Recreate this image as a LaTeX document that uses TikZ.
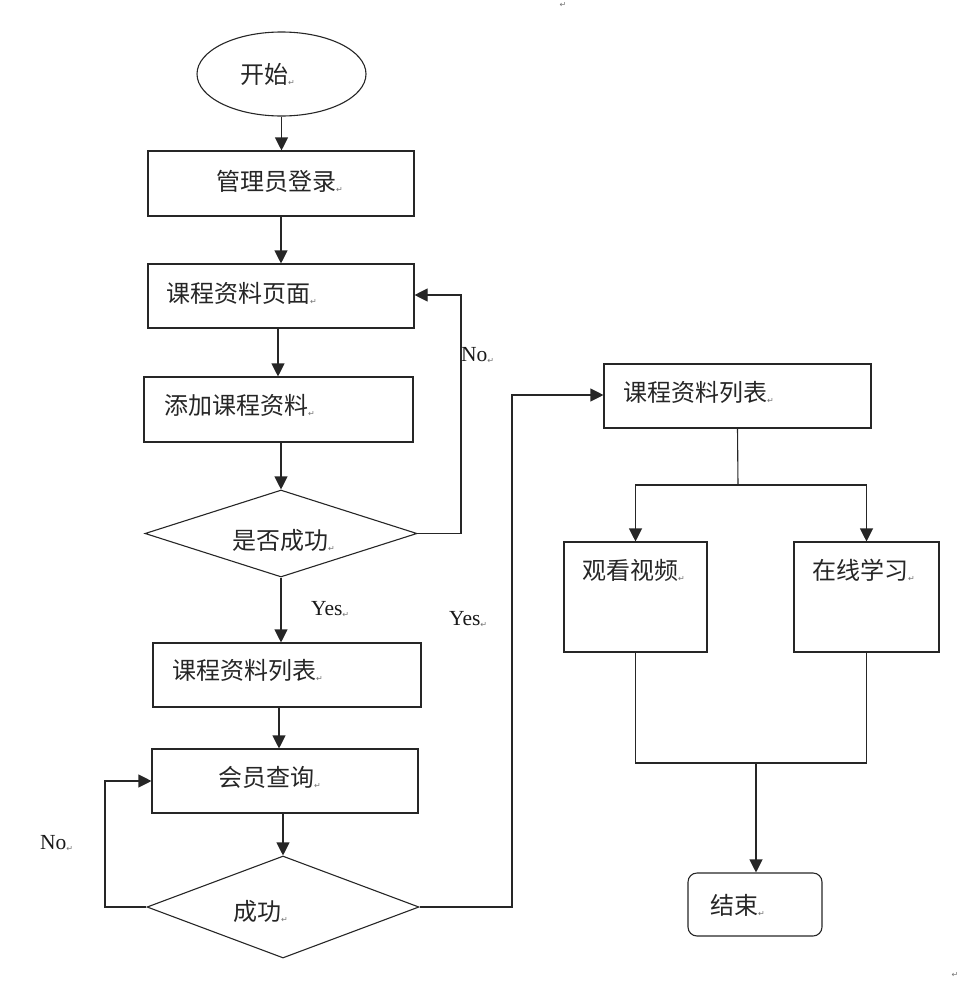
\documentclass[tikz,border=0pt]{standalone}
\usepackage{fontspec}
\setmainfont{Liberation Serif}
\newfontfamily\cjk{Noto Sans CJK SC}
\newfontfamily\symf{DejaVu Sans}
\usetikzlibrary{shapes.geometric,arrows.meta}
\newcommand\retmark{{\symf\fontsize{8}{8}\selectfont\color{black!55}\raisebox{-2pt}{↵}}}
\tikzset{
  box/.style={draw=black!85, line width=1.1pt, inner sep=0pt},
  dia/.style={draw=black!85, line width=1.1pt, diamond, inner sep=0pt},
  txt/.style={anchor=west, inner sep=0pt, text=black!85, font=\cjk\fontsize{24}{24}\selectfont},
  lat/.style={anchor=west, inner sep=0pt, text=black!90, font=\fontsize{21.5}{21.5}\selectfont},
  line/.style={draw=black!85, line width=1.1pt},
  arr/.style={line, -{Triangle[length=13pt,width=13pt]}},
}
\begin{document}
\begin{tikzpicture}[x=1pt,y=-1pt]
\useasboundingbox (0,0) rectangle (967,993);
% shapes
\node[box, ellipse, minimum width=169pt, minimum height=84pt] (st) at (281.5,74) {};
\node[box, minimum width=266pt, minimum height=65pt] (b1) at (281,183.5) {};
\node[box, minimum width=266pt, minimum height=64pt] (b2) at (281,296) {};
\node[box, minimum width=269pt, minimum height=65pt] (b3) at (278.5,409.5) {};
\node[dia, minimum width=272pt, minimum height=87pt] (d1) at (281,533.5) {};
\node[box, minimum width=268pt, minimum height=64pt] (b4) at (287,675) {};
\node[box, minimum width=266pt, minimum height=64pt] (b5) at (285,781) {};
\node[dia, minimum width=272pt, minimum height=102pt] (d2) at (283,907) {};
\node[box, minimum width=267pt, minimum height=64pt] (b6) at (737.5,396) {};
\node[box, minimum width=143pt, minimum height=110pt] (b7) at (635.5,597) {};
\node[box, minimum width=145pt, minimum height=110pt] (b8) at (866.5,597) {};
\node[box, rounded corners=9pt, minimum width=134pt, minimum height=63pt] (en) at (755,904.5) {};
% texts
\node[txt] (t0) at (240,74) {开始\retmark};
\node[txt] (t1) at (216,181) {管理员登录\retmark};
\node[txt] (t2) at (166,293) {课程资料页面\retmark};
\node[txt] (t3) at (164,405) {添加课程资料\retmark};
\node[txt] (t4) at (232,540) {是否成功\retmark};
\node[txt] (t5) at (172,670) {课程资料列表\retmark};
\node[txt] (t6) at (218,777) {会员查询\retmark};
\node[txt] (t7) at (233,911) {成功\retmark};
\node[txt] (t8) at (623,392) {课程资料列表\retmark};
\node[txt] (t9) at (582,570) {观看视频\retmark};
\node[txt] (t10) at (812,570) {在线学习\retmark};
\node[txt] (t11) at (710,905) {结束\retmark};
\node[lat] (l1) at (461,355) {No\retmark};
\node[lat] (l2) at (311,609) {Yes\retmark};
\node[lat] (l3) at (40,843) {No\retmark};
\node[lat] (l4) at (449,619) {Yes\retmark};
\node[inner sep=0pt] (m1) at (563,5) {\retmark};
\node[inner sep=0pt] (m2) at (955,975) {\retmark};
% connectors
\draw[arr] (st.south) -- (st.south |- b1.north);
\draw[arr] (b1.south) -- (b1.south |- b2.north);
\draw[arr] ([xshift=-3pt]b2.south) -- ([xshift=-3pt]b2.south |- b3.north);
\draw[arr] (d1.north |- b3.south) -- (d1.north);
\coordinate (n1) at (461,533.5);
\draw[arr] (d1.east) -- (n1) |- ([yshift=1pt]b2.east);
\draw[arr] (d1.south) -- (d1.south |- b4.north);
\draw[arr] ([xshift=-8pt]b4.south) -- ([xshift=-8pt]b4.south |- b5.north);
\draw[arr] (d2.north |- b5.south) -- (d2.north);
\coordinate (n2) at (105,907);
\draw[arr] (d2.west) -- (n2) |- (b5.west);
\coordinate (y2) at (512,907);
\draw[arr] (d2.east) -- (y2) |- ([yshift=1pt]b6.west);
\coordinate (sp) at (738,485);
\draw[line] (b6.south) -- (sp);
\draw[arr] (sp) -| (b7.north);
\draw[arr] (sp) -| (b8.north);
\coordinate (jn) at (756,763);
\draw[line] (b7.south) |- (jn);
\draw[line] (b8.south) |- (jn);
\draw[arr] (jn) -- (jn |- en.north);
\end{tikzpicture}
\end{document}
